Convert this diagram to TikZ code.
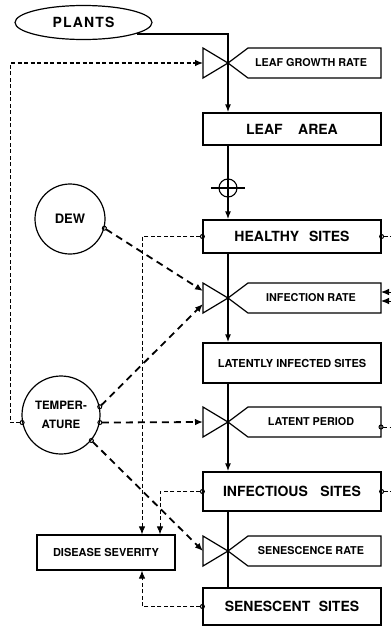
\documentclass[tikz,border=0pt]{standalone}
\usepackage{fontspec}
\setmainfont{TeX Gyre Heros}
\usetikzlibrary{
    arrows.meta,
    positioning,
    shapes.geometric
}

\begin{document}
\begin{tikzpicture}[
  x=1pt,y=-1pt,
  stock/.style={rectangle,draw,line width=1.2pt,minimum width=178pt,inner sep=0pt,
    font=\bfseries\fontsize{14}{16}\selectfont},
  weather/.style={circle,draw,line width=1.2pt,inner sep=0pt,align=center},
  valve/.style={draw,line width=1.2pt,line join=miter},
  ratelabel/.style={inner sep=0pt,font=\bfseries\fontsize{10.8}{12}\selectfont},
  flow/.style={line width=1.8pt,-{Latex[length=8pt,width=6pt]}},
  drive/.style={line width=1.8pt,dash pattern=on 7pt off 5pt},
  info/.style={line width=0.9pt,dash pattern=on 4pt off 2.5pt},
  tap/.style={{Circle[open,length=5pt,width=5pt,line width=1pt]}-{Latex[length=8pt,width=6.5pt]},
    shorten <=-2.5pt},
  tapend/.style={{Circle[open,length=5pt,width=5pt,line width=1pt]}-,shorten <=-2.5pt},
  into/.style={-{Latex[length=8pt,width=6.5pt]}}
]
\useasboundingbox (0,0) rectangle (391,627);

\node[ellipse,draw,line width=1.2pt,minimum width=137pt,minimum height=34pt,inner sep=0pt,
  font=\bfseries\fontsize{14}{16}\selectfont\addfontfeature{LetterSpace=8}] (plants) at (83.5,22.5) {PLANTS};

\node[stock,minimum height=32pt] (area) at (292,129) {LEAF\hspace{1.1em}AREA};
\node[stock,minimum height=33pt] (healthy) at (292,236.5) {HEALTHY\hspace{0.7em}SITES};
\node[stock,minimum height=40pt,font=\bfseries\fontsize{11}{13}\selectfont] (latent) at (292,363) {LATENTLY INFECTED SITES};
\node[stock,minimum height=39pt] (infectious) at (292,491.5) {INFECTIOUS\hspace{0.9em}SITES};
\node[stock,minimum height=37pt] (senescent) at (292,606.5) {SENESCENT\hspace{0.6em}SITES};
\node[stock,minimum width=138pt,minimum height=35pt,font=\bfseries\fontsize{11}{13}\selectfont] (severity) at (106,552.5) {DISEASE SEVERITY};

\node[weather,minimum size=70pt,font=\bfseries\fontsize{13}{15}\selectfont] (dew) at (70,219) {DEW};
\node[weather,minimum size=78pt,font=\bfseries\fontsize{11.5}{19}\selectfont] (temp) at (61,415) {TEMPER-\\ATURE};

\foreach \name/\y/\txt in {lgr/63/LEAF GROWTH RATE, ir/298/INFECTION RATE,
    lp/422/LATENT PERIOD, sr/551/SENESCENCE RATE}{
  \coordinate (\name) at (228,\y);
  \coordinate (\name-in) at (203,\y);
  \coordinate (\name-east) at (381,\y);
  \draw[valve] (203,\y-15) -- (\name) -- (203,\y+15) -- cycle;
  \draw[valve] (\name) -- (248,\y-15) -- (381,\y-15) -- (381,\y+15) -- (248,\y+15) -- cycle;
  \node[ratelabel] (\name-label) at (311,\y) {\txt};
}

\node[circle,draw,line width=1.1pt,minimum size=18pt,inner sep=0pt] (sink) at (228,188) {};
\draw[line width=1.1pt] ([xshift=-7pt]sink.west) -- ([xshift=7pt]sink.east);

\draw[flow] (plants.-12) -| (lgr) -- (lgr |- area.north);
\draw[flow] (area.south -| lgr) -- (healthy.north -| lgr);
\draw[flow] (healthy.south -| ir) -- (latent.north -| ir);
\draw[flow] (latent.south -| lp) -- (infectious.north -| lp);
\draw[flow,-] (infectious.south -| sr) -- (senescent.north -| sr);

\draw[drive,tap] (dew.-15) -- ([yshift=7pt]ir-in);
\draw[drive,tap] (temp.12) -- ([yshift=-6pt]ir-in);
\draw[drive,tap] (temp.-11) -- (lp-in);
\draw[drive,tap] (temp.-40) -- (sr-in);
\draw[info,tap,line width=1.1pt] (temp.191) -- ++(-12,0) |- (lgr-in);

\draw[info,tap] (healthy.west) -| ([xshift=36pt]severity.north);
\draw[info,tap] (infectious.west) -| ([xshift=54pt]severity.north);
\draw[info,tap] (senescent.west) -| ([xshift=36pt]severity.south);

\coordinate (rim) at (391,0);
\coordinate (ir-tip1) at (381,292);
\coordinate (ir-tip2) at (381,301);
\coordinate (lp-port) at (381,427);
\draw[info,tapend] (healthy.east) -- (healthy.east -| rim);
\draw[info,into] (ir-tip1 -| rim) -- (ir-tip1);
\draw[info,into] (ir-tip2 -| rim) -- (ir-tip2);
\draw[info,tapend] (lp-port) -- (lp-port -| rim);
\draw[info,tapend] (infectious.east) -- (infectious.east -| rim);
\end{tikzpicture}
\end{document}
